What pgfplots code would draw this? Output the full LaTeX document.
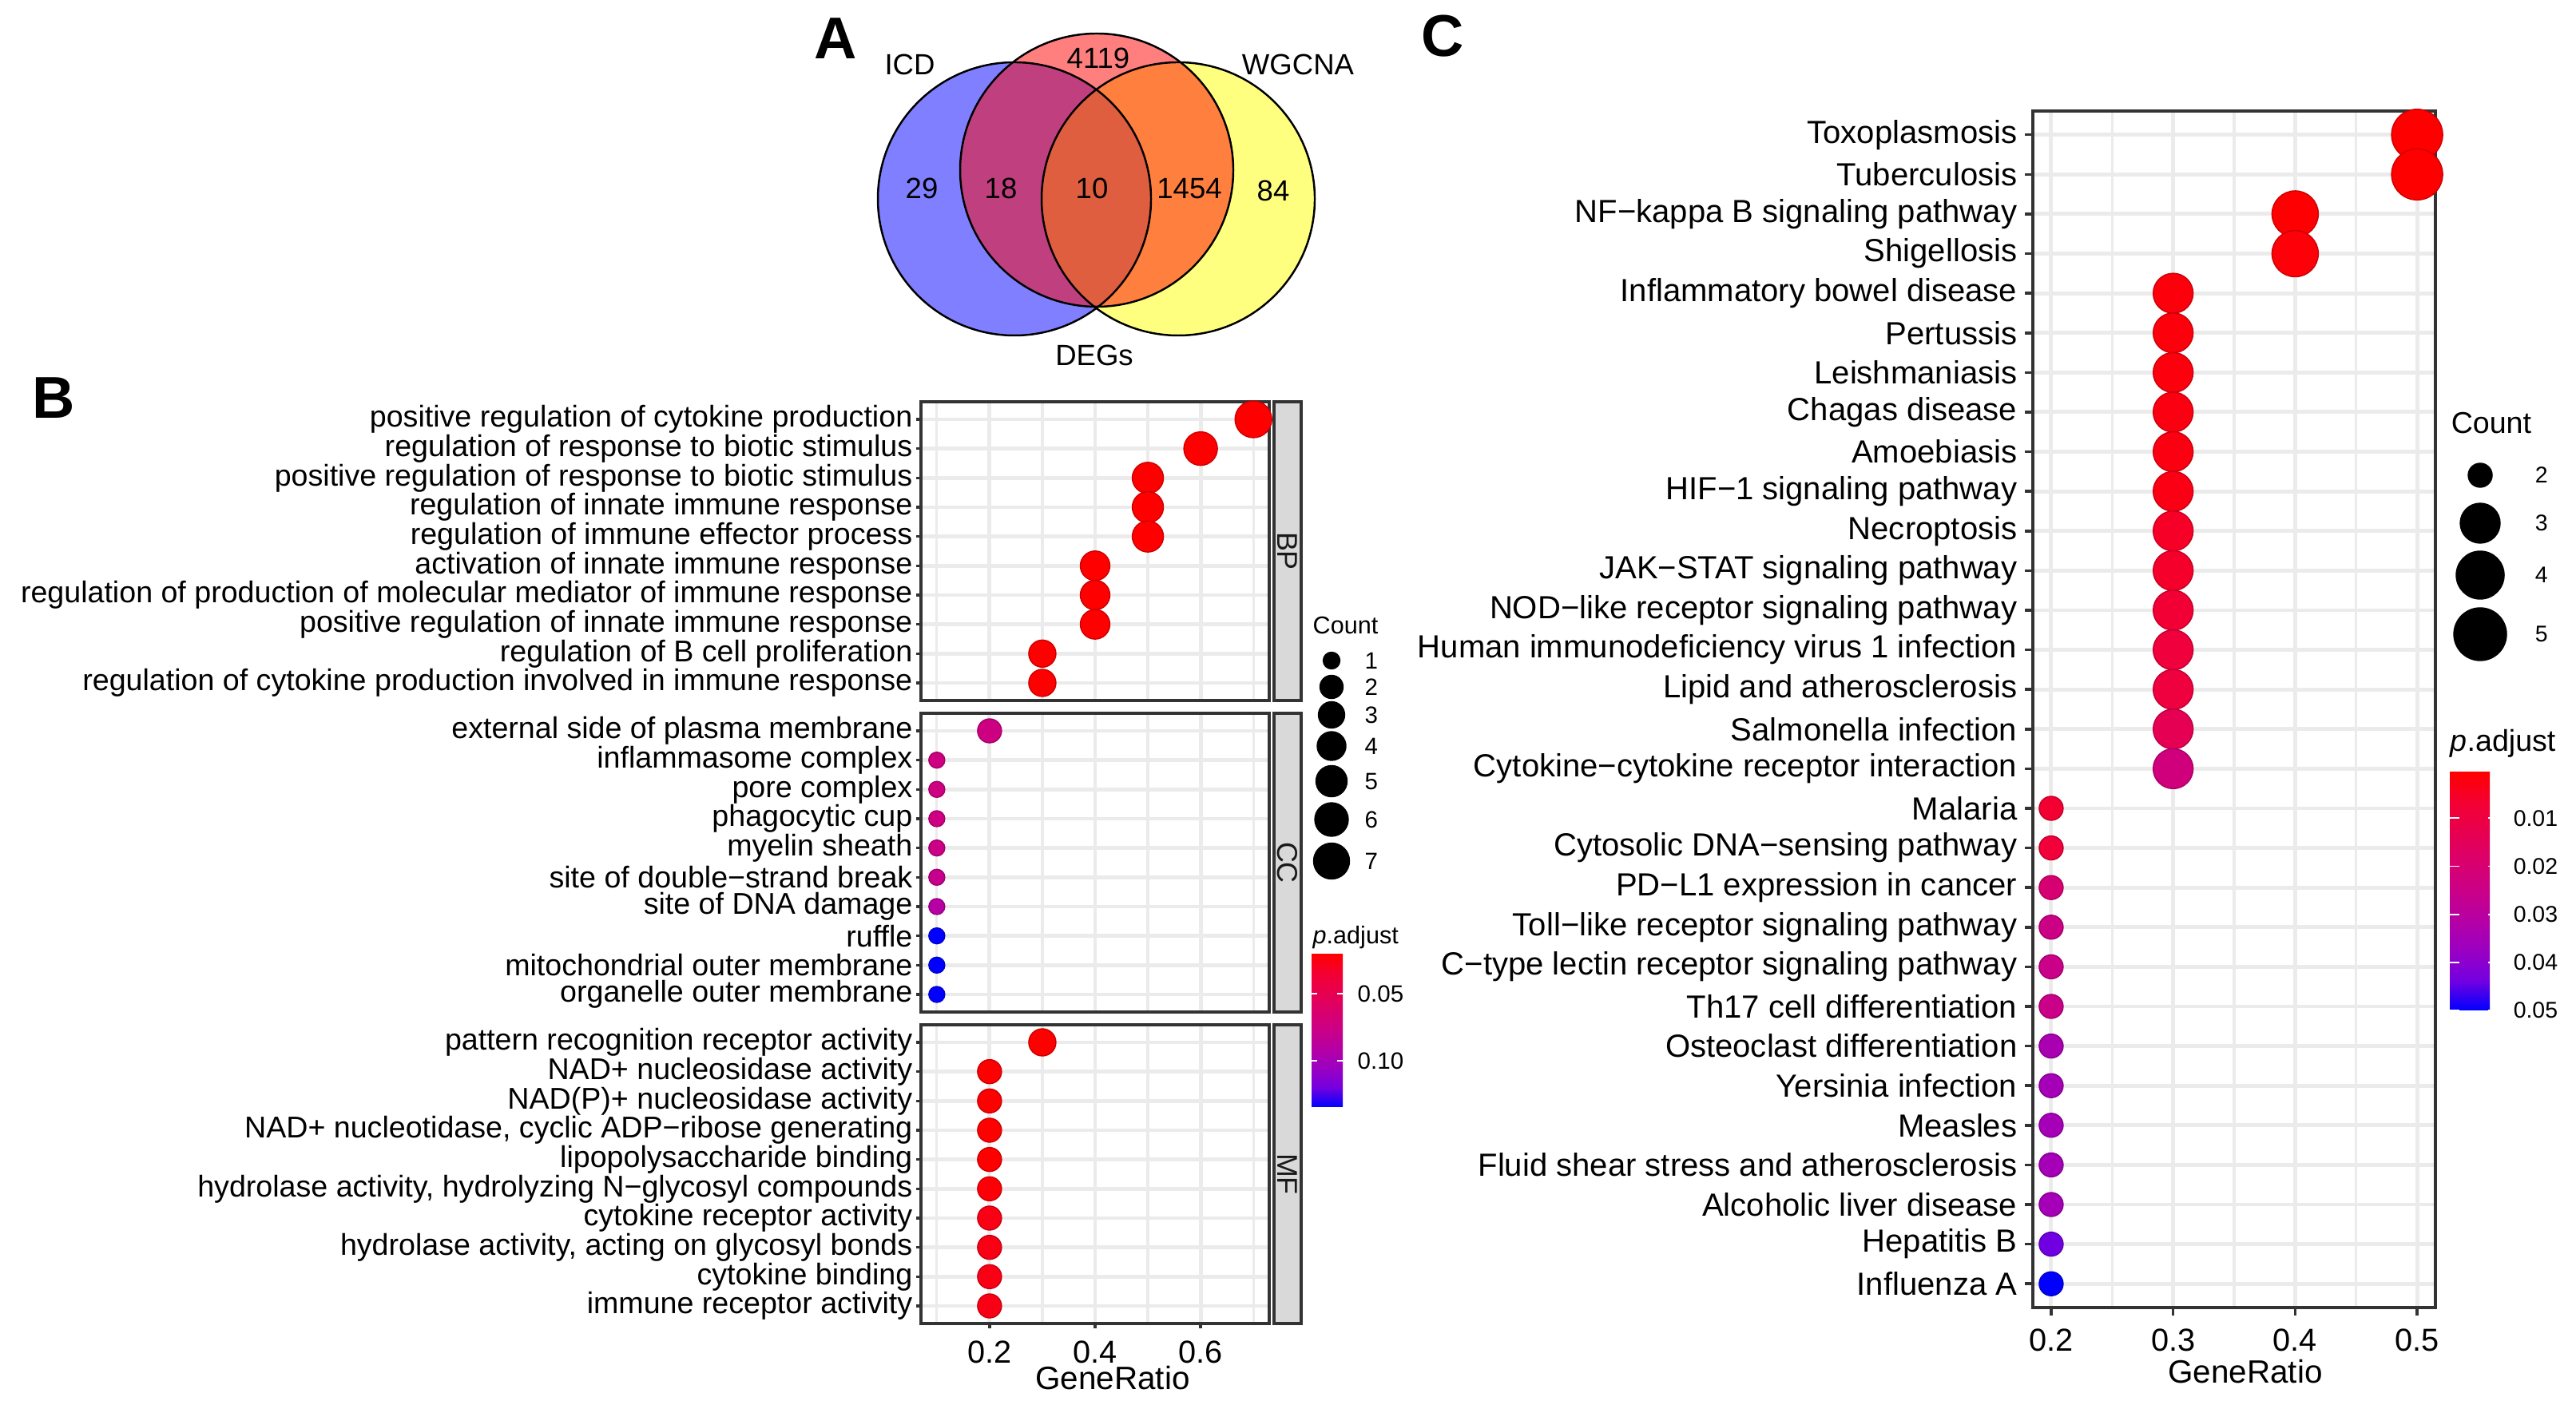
\documentclass[border=0pt]{standalone}
\usepackage{pgfplots}
\usepackage{pgfplotstable}
\pgfplotsset{compat=1.18}
\usepackage{fontspec}
\setmainfont{Liberation Sans}

\definecolor{gridc}{RGB}{235,235,235}
\definecolor{framec}{RGB}{51,51,51}
\definecolor{stripc}{RGB}{217,217,217}
\definecolor{stript}{RGB}{26,26,26}
\definecolor{vblue}{RGB}{0,0,255}
\definecolor{vred}{RGB}{255,0,0}
\definecolor{vyellow}{RGB}{255,255,0}

\newcommand\fsB{\fontsize{10.7}{12}\selectfont}
\newcommand\fsC{\fontsize{11.4}{13}\selectfont}
\newcommand\fsX{\fontsize{11.3}{13}\selectfont}
\newcommand\fsXL{\fontsize{11.5}{13}\selectfont}
\newcommand\fsV{\fontsize{10.4}{12}\selectfont}
\newcommand\fsS{\fontsize{10.2}{12}\selectfont}
\newcommand\fsLB{\fontsize{8.7}{10}\selectfont}
\newcommand\fsLBn{\fontsize{8.4}{10}\selectfont}
\newcommand\fsLC{\fontsize{10.7}{12}\selectfont}
\newcommand\fsLCn{\fontsize{8.1}{10}\selectfont}
\newcommand\fsP{\bfseries\fontsize{21}{24}\selectfont}

% GO terms, panel B (y = row from bottom, x = GeneRatio, d = dot diameter px, p = p.adjust)
\pgfplotstableread{
y x d p
10 0.7 46 0.020
9 0.6 42 0.020
8 0.5 39 0.020
7 0.5 39 0.020
6 0.5 39 0.020
5 0.4 37 0.020
4 0.4 37 0.020
3 0.4 37 0.020
2 0.3 34 0.020
1 0.3 34 0.020
}\bptab
\pgfplotstableread{
y x d p
10 0.2 30 0.074
9 0.1 20 0.074
8 0.1 20 0.074
7 0.1 20 0.075
6 0.1 20 0.077
5 0.1 20 0.080
4 0.1 20 0.091
3 0.1 20 0.1345
2 0.1 20 0.1345
1 0.1 20 0.1345
}\cctab
\pgfplotstableread{
y x d p
10 0.3 34 0.020
9 0.2 30 0.020
8 0.2 30 0.020
7 0.2 30 0.020
6 0.2 30 0.020
5 0.2 30 0.022
4 0.2 30 0.026
3 0.2 30 0.026
2 0.2 30 0.026
1 0.2 30 0.026
}\mftab
% KEGG pathways, panel C
\pgfplotstableread{
y x d p
30 0.5 64 0.0003
29 0.5 64 0.0003
28 0.4 58 0.0005
27 0.4 58 0.0013
26 0.3 50 0.0018
25 0.3 50 0.0018
24 0.3 50 0.0020
23 0.3 50 0.0023
22 0.3 50 0.0023
21 0.3 50 0.0028
20 0.3 50 0.0053
19 0.3 50 0.0058
18 0.3 50 0.0073
17 0.3 50 0.0088
16 0.3 50 0.0093
15 0.3 50 0.0137
14 0.3 50 0.0227
13 0.2 30 0.0068
12 0.2 30 0.0083
11 0.2 30 0.0202
10 0.2 30 0.0242
9 0.2 30 0.0252
8 0.2 30 0.0252
7 0.2 30 0.0341
6 0.2 30 0.0351
5 0.2 30 0.0351
4 0.2 30 0.0351
3 0.2 30 0.0351
2 0.2 30 0.0440
1 0.2 30 0.0500
}\ctab

\pgfplotsset{
  colormap={gg}{rgb255=(255,0,0) rgb255=(244,0,49) rgb255=(232,0,79) rgb255=(218,0,108)
    rgb255=(202,0,136) rgb255=(181,0,165) rgb255=(154,0,195) rgb255=(115,0,224) rgb255=(0,0,255)},
  dotax/.style={
    scale only axis, colormap name=gg,
    axis line style={framec, line width=1pt},
    xmajorgrids, xminorgrids, ymajorgrids,
    major grid style={gridc, line width=1.4pt},
    minor grid style={gridc, line width=0.9pt},
    tick pos=left, tick align=outside,
    tick style={framec, line width=1pt},
    minor tick length=0pt,
  },
  bax/.style={dotax, width=4.36cm, height=3.74cm,
    xmin=0.07, xmax=0.73, ymin=0.4, ymax=10.6,
    xtick={0.2,0.4,0.6}, minor xtick={0.1,0.3,0.5,0.7}, ytick={1,...,10},
    point meta min=0.02, point meta max=0.1345,
    major tick length=0.06cm,
    yticklabel style={font=\fsB, text=black, inner sep=0pt, xshift=-0.04cm}},
  notx/.style={xticklabels={}, xtick style={draw=none}},
  dots/.style={scatter, only marks, mark=*, point meta=\thisrow{p},
    visualization depends on={0.14226*\thisrow{d} \as \dd},
    scatter/@pre marker code/.append style={/tikz/mark size=\dd pt}},
  cbar/.style={grid=none, axis line style={draw=none}, xtick=\empty,
    y dir=reverse, tick align=inside, ytick pos=both, yticklabel pos=right,
    scaled y ticks=false, minor tick length=0pt, axis on top},
}

\begin{document}
\begin{tikzpicture}
\path[use as bounding box] (0,0) rectangle (32.25,17.59);

% overlay axis in pixel units: Venn diagram, legends, panel letters
\begin{axis}[at={(0cm,0cm)}, anchor=south west, scale only axis,
  width=32.25cm, height=17.59cm, xmin=0, xmax=3225, ymin=0, ymax=1759,
  y dir=reverse, hide axis, clip=false]
  \fill[vblue, fill opacity=0.5] (axis cs:1270,249) circle[radius=1.71cm];
  \fill[vyellow, fill opacity=0.5] (axis cs:1475,249) circle[radius=1.71cm];
  \fill[vred, fill opacity=0.5] (axis cs:1373,213) circle[radius=1.71cm];
  \draw[black, line width=0.7pt] (axis cs:1270,249) circle[radius=1.71cm];
  \draw[black, line width=0.7pt] (axis cs:1475,249) circle[radius=1.71cm];
  \draw[black, line width=0.7pt] (axis cs:1373,213) circle[radius=1.71cm];
  \node[font=\fsV] at (axis cs:1139,81) {ICD};
  \node[font=\fsV] at (axis cs:1625,81) {WGCNA};
  \node[font=\fsV] at (axis cs:1370,445) {DEGs};
  \node[font=\fsV] at (axis cs:1375,73) {4119};
  \node[font=\fsV] at (axis cs:1154,236) {29};
  \node[font=\fsV] at (axis cs:1253,236) {18};
  \node[font=\fsV] at (axis cs:1367,236) {10};
  \node[font=\fsV] at (axis cs:1489,236) {1454};
  \node[font=\fsV] at (axis cs:1594,239) {84};

  \node[font=\fsP] at (axis cs:1046,48) {A};
  \node[font=\fsP] at (axis cs:67,498) {B};
  \node[font=\fsP] at (axis cs:1806,45) {C};

  % Count legend, panel B
  \node[font=\fsLB, anchor=base west, inner sep=0pt] at (axis cs:1643,794) {Count};
  \addplot[only marks, mark=*, black, mark size=2.99pt] coordinates {(1667,827)};
  \addplot[only marks, mark=*, black, mark size=4.13pt] coordinates {(1667,860)};
  \addplot[only marks, mark=*, black, mark size=4.69pt] coordinates {(1667,895)};
  \addplot[only marks, mark=*, black, mark size=5.12pt] coordinates {(1667,934)};
  \addplot[only marks, mark=*, black, mark size=5.55pt] coordinates {(1667,978)};
  \addplot[only marks, mark=*, black, mark size=5.97pt] coordinates {(1667,1026)};
  \addplot[only marks, mark=*, black, mark size=6.40pt] coordinates {(1667,1078)};
  \node[font=\fsLBn, anchor=west, inner sep=0pt] at (axis cs:1708,827) {1};
  \node[font=\fsLBn, anchor=west, inner sep=0pt] at (axis cs:1708,860) {2};
  \node[font=\fsLBn, anchor=west, inner sep=0pt] at (axis cs:1708,895) {3};
  \node[font=\fsLBn, anchor=west, inner sep=0pt] at (axis cs:1708,934) {4};
  \node[font=\fsLBn, anchor=west, inner sep=0pt] at (axis cs:1708,978) {5};
  \node[font=\fsLBn, anchor=west, inner sep=0pt] at (axis cs:1708,1026) {6};
  \node[font=\fsLBn, anchor=west, inner sep=0pt] at (axis cs:1708,1078) {7};
  \node[font=\fsLB, anchor=base west, inner sep=0pt] at (axis cs:1643,1182) {\textit{p}.adjust};

  % Count legend, panel C
  \node[font=\fsLC, anchor=base west, inner sep=0pt] at (axis cs:3068,543) {Count};
  \addplot[only marks, mark=*, black, mark size=4.27pt] coordinates {(3105,595)};
  \addplot[only marks, mark=*, black, mark size=7.11pt] coordinates {(3105,655)};
  \addplot[only marks, mark=*, black, mark size=8.54pt] coordinates {(3105,720)};
  \addplot[only marks, mark=*, black, mark size=9.39pt] coordinates {(3105,794)};
  \node[font=\fsLCn, anchor=west, inner sep=0pt] at (axis cs:3173,595) {2};
  \node[font=\fsLCn, anchor=west, inner sep=0pt] at (axis cs:3173,655) {3};
  \node[font=\fsLCn, anchor=west, inner sep=0pt] at (axis cs:3173,720) {4};
  \node[font=\fsLCn, anchor=west, inner sep=0pt] at (axis cs:3173,794) {5};
  \node[font=\fsLC, anchor=base west, inner sep=0pt] at (axis cs:3067,941) {\textit{p}.adjust};
\end{axis}

% ---- panel B: BP
\begin{axis}[bax, notx, name=bp, at={(11.53cm,8.82cm)}, anchor=south west,
  yticklabels={regulation of cytokine production involved in immune response,
    regulation of B cell proliferation,
    positive regulation of innate immune response,
    regulation of production of molecular mediator of immune response,
    activation of innate immune response,
    regulation of immune effector process,
    regulation of innate immune response,
    positive regulation of response to biotic stimulus,
    regulation of response to biotic stimulus,
    positive regulation of cytokine production}]
  \addplot[dots] table[x=x, y=y] {\bptab};
\end{axis}
\draw[framec, line width=1pt, fill=stripc] ([xshift=0.06cm]bp.south east) rectangle ([xshift=0.40cm]bp.north east);
\node[rotate=-90, font=\fsS, text=stript] at ([xshift=0.23cm]bp.east) {BP};

% ---- panel B: CC
\begin{axis}[bax, notx, name=cc, at={(11.53cm,4.92cm)}, anchor=south west,
  yticklabels={organelle outer membrane,
    mitochondrial outer membrane,
    ruffle,
    site of DNA damage,
    site of double−strand break,
    myelin sheath,
    phagocytic cup,
    pore complex,
    inflammasome complex,
    external side of plasma membrane},
  colorbar, colorbar style={cbar,
    at={(16.12cm,5.65cm)}, anchor=north west,
    width=0.39cm, height=1.92cm,
    ytick={0.05,0.10}, yticklabels={0.05,0.10},
    major tick length=0.07cm,
    ytick style={white, line width=0.5pt},
    yticklabel style={font=\fsLBn, text=black, inner sep=0pt, xshift=0.18cm}}]
  \addplot[dots] table[x=x, y=y] {\cctab};
\end{axis}
\draw[framec, line width=1pt, fill=stripc] ([xshift=0.06cm]cc.south east) rectangle ([xshift=0.40cm]cc.north east);
\node[rotate=-90, font=\fsS, text=stript] at ([xshift=0.23cm]cc.east) {CC};

% ---- panel B: MF
\begin{axis}[bax, name=mf, at={(11.53cm,1.02cm)}, anchor=south west,
  xticklabels={0.2,0.4,0.6},
  xticklabel style={font=\fsX, text=black, inner sep=0pt, yshift=-0.15cm},
  xlabel={GeneRatio},
  xlabel style={font=\fsXL, at={(axis description cs:0.5,0)}, anchor=north,
    inner sep=0pt, yshift=-0.53cm, xshift=0.22cm},
  yticklabels={immune receptor activity,
    cytokine binding,
    {hydrolase activity, acting on glycosyl bonds},
    cytokine receptor activity,
    {hydrolase activity, hydrolyzing N−glycosyl compounds},
    lipopolysaccharide binding,
    {NAD+ nucleotidase, cyclic ADP−ribose generating},
    NAD(P)+ nucleosidase activity,
    NAD+ nucleosidase activity,
    pattern recognition receptor activity}]
  \addplot[dots] table[x=x, y=y] {\mftab};
\end{axis}
\draw[framec, line width=1pt, fill=stripc] ([xshift=0.06cm]mf.south east) rectangle ([xshift=0.40cm]mf.north east);
\node[rotate=-90, font=\fsS, text=stript] at ([xshift=0.23cm]mf.east) {MF};

% ---- panel C: KEGG
\begin{axis}[dotax, name=cax, at={(25.45cm,1.22cm)}, anchor=south west,
  width=5.04cm, height=14.98cm,
  xmin=0.185, xmax=0.515, ymin=0.4, ymax=30.6,
  xtick={0.2,0.3,0.4,0.5}, xticklabels={0.2,0.3,0.4,0.5},
  minor xtick={0.25,0.35,0.45}, ytick={1,...,30},
  major tick length=0.10cm,
  point meta min=0.0003, point meta max=0.05,
  yticklabel style={font=\fsC, text=black, inner sep=0pt, xshift=-0.09cm},
  xticklabel style={font=\fsX, text=black, inner sep=0pt, yshift=-0.16cm},
  xlabel={GeneRatio},
  xlabel style={font=\fsXL, at={(axis description cs:0.5,0)}, anchor=north,
    inner sep=0pt, yshift=-0.65cm, xshift=0.14cm},
  yticklabels={Influenza A, Hepatitis B, Alcoholic liver disease,
    Fluid shear stress and atherosclerosis, Measles, Yersinia infection,
    Osteoclast differentiation, Th17 cell differentiation,
    C−type lectin receptor signaling pathway, Toll−like receptor signaling pathway,
    PD−L1 expression in cancer, Cytosolic DNA−sensing pathway, Malaria,
    Cytokine−cytokine receptor interaction, Salmonella infection,
    Lipid and atherosclerosis, Human immunodeficiency virus 1 infection,
    NOD−like receptor signaling pathway, JAK−STAT signaling pathway,
    Necroptosis, HIF−1 signaling pathway, Amoebiasis, Chagas disease,
    Leishmaniasis, Pertussis, Inflammatory bowel disease, Shigellosis,
    NF−kappa B signaling pathway, Tuberculosis, Toxoplasmosis},
  colorbar, colorbar style={cbar,
    at={(30.37cm,7.93cm)}, anchor=north west,
    width=0.60cm, height=2.99cm,
    ytick={0.01,0.02,0.03,0.04,0.05}, yticklabels={0.01,0.02,0.03,0.04,0.05},
    major tick length=0.12cm,
    ytick style={white, line width=0.5pt},
    yticklabel style={font=\fsLCn, text=black, inner sep=0pt, xshift=0.19cm}}]
  \addplot[dots] table[x=x, y=y] {\ctab};
\end{axis}
\end{tikzpicture}
\end{document}
